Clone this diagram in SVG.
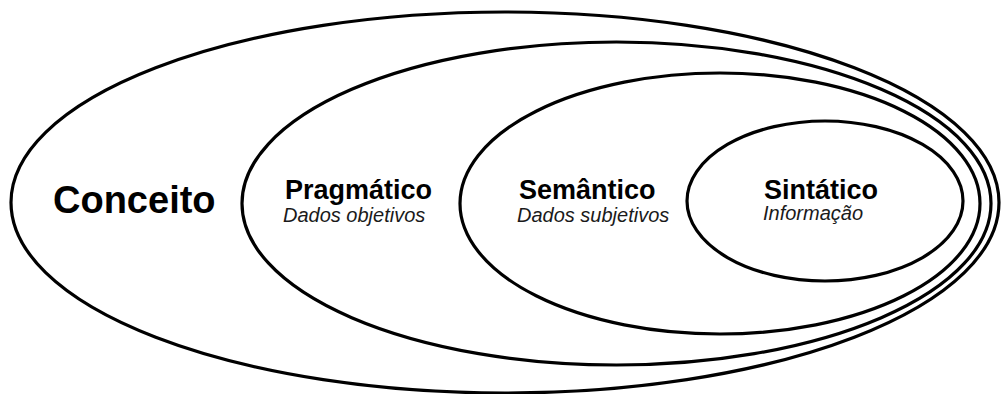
<svg xmlns="http://www.w3.org/2000/svg" width="1001" height="394" viewBox="0 0 1001 394">
  <style>
    .ring { fill: #ffffff; stroke: #000000; stroke-width: 3.2; }
    .title { font-family: "Liberation Sans", Arial, sans-serif; font-weight: bold; fill: #000000; }
    .sub { font-family: "Liberation Sans", Arial, sans-serif; font-style: italic; font-size: 20px; fill: #1a1a1a; }
  </style>
  <rect width="1001" height="394" fill="#ffffff"/>
  <g id="conceito">
    <ellipse class="ring" cx="505" cy="202.5" rx="494" ry="190.5"/>
    <text class="title" x="53" y="213" font-size="38">Conceito</text>
  </g>
  <g id="pragmatico">
    <ellipse class="ring" cx="616.5" cy="203.5" rx="374.5" ry="161.5"/>
    <text class="title" x="285" y="199" font-size="27">Pragmático</text>
    <text class="sub" x="283" y="222">Dados objetivos</text>
  </g>
  <g id="semantico">
    <ellipse class="ring" cx="720" cy="203.5" rx="260" ry="130.5"/>
    <text class="title" x="519" y="199" font-size="27">Semântico</text>
    <text class="sub" x="517" y="222">Dados subjetivos</text>
  </g>
  <g id="sintatico">
    <ellipse class="ring" cx="825" cy="201" rx="138" ry="80"/>
    <text class="title" x="764" y="199" font-size="27">Sintático</text>
    <text class="sub" x="763" y="220">Informação</text>
  </g>
  <g id="connectors"/>
</svg>
